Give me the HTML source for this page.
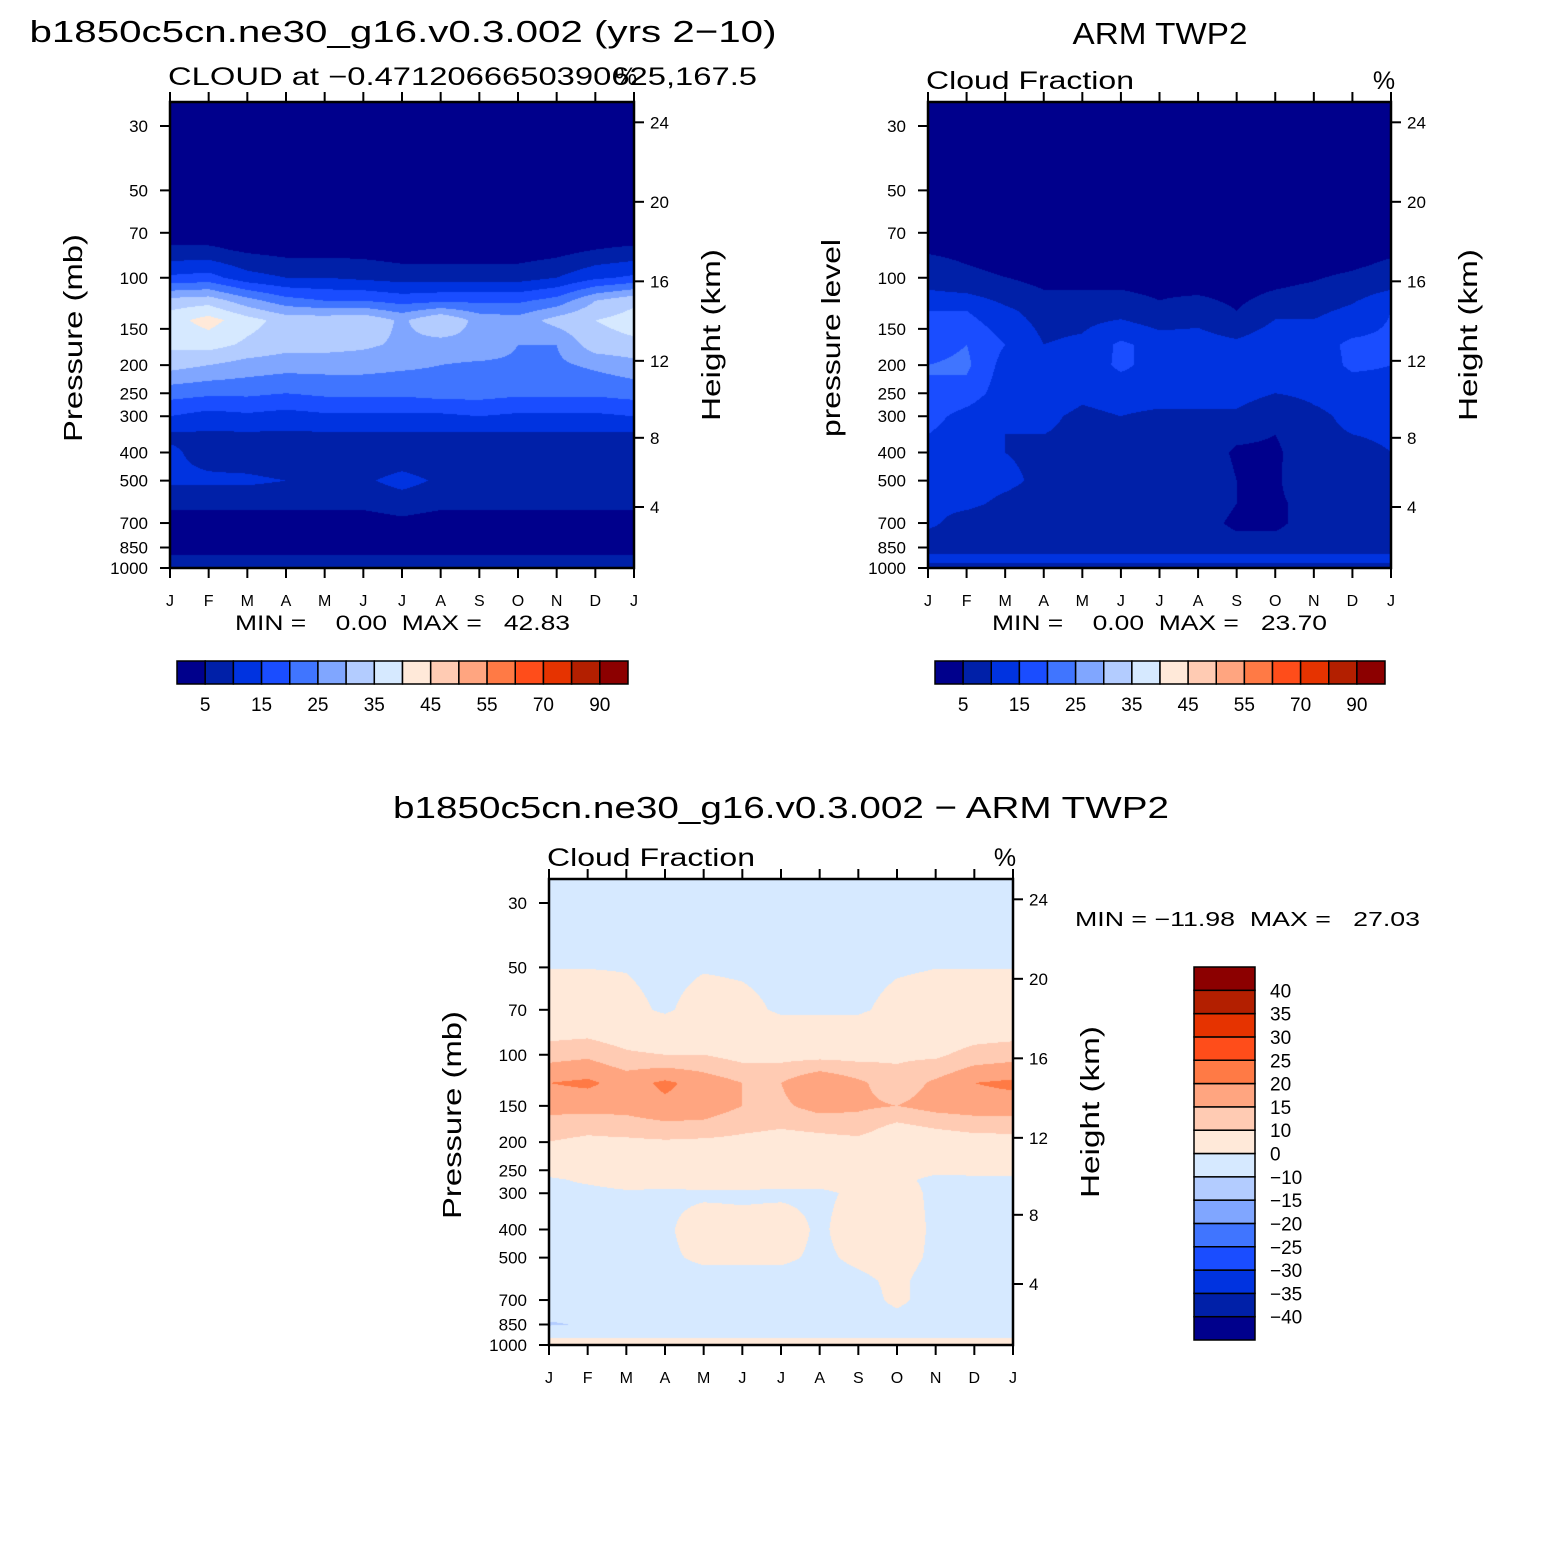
<!DOCTYPE html>
<html><head><meta charset="utf-8">
<style>
html,body{margin:0;padding:0;background:#fff;}
#wrap{position:relative;width:1563px;height:1563px;overflow:hidden;background:#fff;}
canvas{position:absolute;}
svg{position:absolute;left:0;top:0;}
text{font-family:"Liberation Sans",sans-serif;fill:#000;white-space:pre;}
</style></head>
<body>
<div id="wrap">
<canvas id="c1" style="left:170px;top:102px" width="464" height="466"></canvas>
<canvas id="c2" style="left:928px;top:102px" width="463" height="466"></canvas>
<canvas id="c3" style="left:549px;top:879px" width="464" height="466"></canvas>
<svg id="ov" width="1563" height="1563"></svg>
</div>
<script>
const months=["J","F","M","A","M","J","J","A","S","O","N","D","J"];
const pTicks=[30,50,70,100,150,200,250,300,400,500,700,850,1000];
const kmTicks=[4,8,12,16,20,24];
const colors=["#00008c","#0020a8","#0033e0","#1a4dff","#4075ff","#80a6ff","#b3ccff","#d6e9ff","#ffe9d9","#ffcbb3","#ffa580","#ff7a45","#ff4d1a","#e63300","#b31f00","#8c0000"];
const levelsAbs=[5,10,15,20,25,30,35,40,45,50,55,60,70,80,90];
const levelsDiff=[-40,-35,-30,-25,-20,-15,-10,0,10,15,20,25,30,35,40];
const absLabels=["5","15","25","35","45","55","70","90"];
const diffLabels=["40","35","30","25","20","15","10","0","−10","−15","−20","−25","−30","−35","−40"];

const p1Levels=[30,50,70,80,100,120,140,170,200,250,300,350,400,500,600,700,850,925,1000];
const model=[
[1,1,1,1,1,1,1,1,1,1,1,1,1],
[1,1,1,1,1,1,1,1,1,1,1,1,1],
[2,2,2,2,2,2,2,2,2,2,2,2,2],
[6,6,4,3,3,3,2,2,2,2,3,5,6],
[16,17,12,10,10,9,8,8,8,8,10,14,16],
[32,33,27,22,20,20,18,19,19,19,22,30,34],
[38,42,37,33,33,34,29,35,28,27,32,35,37],
[36,37,34,32,32,31,29,28,29,25,25,33,34],
[32,30,28,27,27,27,26,25,24,24,24,26,28],
[22,21,21,20,21,21,21,22,22,21,21,21,22],
[15,13,14,13,14,14,14,14,15,14,14,14,15],
[9,9,9,9,9,9,9,9,9,9,9,9,9],
[11,8,7,6,6,6,6,6,6,6,6,6,8],
[11,11,11,10,8,9,12,9,9,10,9,9,10],
[6,6,6,6,6,6,7,6,6,6,6,6,6],
[3,3,3,3,3,3,4,3,3,3,3,3,3],
[3,3,3,3,3,3,3,3,3,3,3,3,3],
[6,6,6,6,6,6,6,6,6,6,6,6,6],
[9,9,9,9,9,9,9,9,9,9,9,9,9]];

const p2Levels=[30,70,90,110,130,170,200,250,300,400,500,600,700,850,925,1000];
const obs=[
[1,1,1,1,1,1,1,1,1,1,1,1,1],
[1,1,1,1,1,1,1,1,1,1,1,1,1],
[7,5,3,2,2,2,2,2,2,2,3,4,6],
[10,9,7,5,5,5,4,4,3,5,6,8,10],
[15,15,11,8,8,8,6,8,5,9,9,11,15],
[18,20,15,10,11,16,13,12,11,13,13,16,16],
[20,21,13,12,12,16,13,14,11,13,12,16,15],
[20,18,12,13,11,12,12,12,12,10,11,12,13],
[17,13,10,11,9,10,9,9,9,6,9,11,11],
[13,11,10,9,9,9,9,9,4,4,9,9,10],
[12,12,11,9,9,9,9,10,5,4,10,10,10],
[11,11,9,8,8,8,8,8,5,4,7,8,9],
[11,8,7,7,5,7,5,7,4,4,7,7,9],
[7,7,7,7,7,7,7,7,7,7,7,7,7],
[12,12,12,12,12,12,12,12,12,12,12,12,12],
[8,8,8,8,8,8,8,8,8,8,8,8,8]];

const p3Levels=[30,50,70,100,125,150,180,220,270,300,400,500,600,700,850,925,1000];
const diff=[
[-2,-2,-2,-2,-2,-2,-2,-2,-2,-2,-2,-2,-2],
[-0.1,-0.1,-0.3,-2,-0.5,-1,-2,-2,-2,-0.7,-0.1,-0.1,-0.1],
[3,3,2,-1,3,2,-1,-1,-1,2,3,3,3],
[13,14,11,10,10,8,8,8,8,9,9,12,13],
[20,21,18,21,18,15,15,20,16,12,16,20,21],
[17,17,17,19,18,15,14,17,16,15,17,18,18],
[12,11,12,13,13,11,10,11,12,8,10,11,11],
[8,7,6,6,5,6,5,5,5,4,4,5,6],
[-1,1,3,2,3,3,2,2,2,1,-1,-1,-1],
[-2,-2,-1,-1,-1,-1,-1,-1,1,2,-1,-2,-2],
[-2,-2,-2,-1,3,2,3,-1,3,3,-1,-2,-2],
[-2,-2,-2,-1,1,1,1,-1,1,2,-1,-2,-2],
[-2,-2,-2,-2,-2,-2,-2,-2,-1,1,-2,-2,-2],
[-3,-6,-2,-2,-2,-2,-2,-2,-2,1,-2,-2,-2],
[-11,-9,-3,-2,-2,-2,-2,-2,-2,-2,-2,-2,-2],
[-1,-1,-1,-1,-1,-1,-1,-1,-1,-1,-1,-1,-1],
[2,2,2,2,2,2,2,2,2,2,2,2,2]];

const PTOP=24.8, PBOT=1000;
function yFrac(p){return (Math.log(p)-Math.log(PTOP))/(Math.log(PBOT)-Math.log(PTOP));}
function kmToP(z){z*=1000;return z<11000?1013.25*Math.pow(1-2.25577e-5*z,5.2559):226.32*Math.exp(-(z-11000)/6341.6);}
function colorIdx(v,lv){let i=0;while(i<lv.length&&v>=lv[i])i++;return i;}
function hex(c){return [parseInt(c.slice(1,3),16),parseInt(c.slice(3,5),16),parseInt(c.slice(5,7),16)];}
const rgb=colors.map(hex);

function drawField(id,levels,grid,lv){
  const cv=document.getElementById(id),ctx=cv.getContext('2d');
  const W=cv.width,H=cv.height,img=ctx.createImageData(W,H);
  const lp=levels.map(p=>Math.log(p)),lt=Math.log(PTOP),lb=Math.log(PBOT);
  for(let y=0;y<H;y++){
    const L=lt+(y+0.5)/H*(lb-lt);
    let r=0;while(r<lp.length-2&&L>lp[r+1])r++;
    let ty=(L-lp[r])/(lp[r+1]-lp[r]);ty=Math.max(0,Math.min(1,ty));
    for(let x=0;x<W;x++){
      const fx=(x+0.5)/W*12;let c=Math.min(11,Math.floor(fx));const tx=fx-c;
      const v=(grid[r][c]*(1-tx)+grid[r][c+1]*tx)*(1-ty)+(grid[r+1][c]*(1-tx)+grid[r+1][c+1]*tx)*ty;
      const k=rgb[colorIdx(v,lv)],o=(y*W+x)*4;
      img.data[o]=k[0];img.data[o+1]=k[1];img.data[o+2]=k[2];img.data[o+3]=255;
    }
  }
  ctx.putImageData(img,0,0);
}
drawField('c1',p1Levels,model,levelsAbs);
drawField('c2',p2Levels,obs,levelsAbs);
drawField('c3',p3Levels,diff,levelsDiff);

const svg=document.getElementById('ov');const NS="http://www.w3.org/2000/svg";
function el(tag,attrs,parent){const e=document.createElementNS(NS,tag);for(const k in attrs)e.setAttribute(k,attrs[k]);(parent||svg).appendChild(e);return e;}
function txt(s,x,y,size,anchor,name,rot,len){const t=el('text',{x:x,y:y,'font-size':size,'text-anchor':anchor||'start'});t.textContent=s;


if(len){t.setAttribute('textLength',len);t.setAttribute('lengthAdjust','spacingAndGlyphs');}
if(rot)t.setAttribute('transform','rotate(-90 '+x+' '+y+')');return t;}

function axes(x0,y0,w,h,leftTitle,pfx,leftLen){
  const g=el('g',{});
  
  
  el('rect',{x:x0,y:y0,width:w,height:h,fill:'none',stroke:'#000','stroke-width':2.5},g);
  months.forEach((m,i)=>{const x=x0+w*i/12;
    el('line',{x1:x,y1:y0+h,x2:x,y2:y0+h+10,stroke:'#000','stroke-width':2},g);
    el('line',{x1:x,y1:y0,x2:x,y2:y0-10,stroke:'#000','stroke-width':2},g);
    txt(m,x,y0+h+38,16,'middle',pfx+'-month-label');});
  pTicks.forEach(p=>{const y=y0+h*yFrac(p);
    el('line',{x1:x0,y1:y,x2:x0-10,y2:y,stroke:'#000','stroke-width':2},g);
    txt(String(p),x0-22,y+6,17,'end',pfx+'-pressure-label');});
  kmTicks.forEach(k=>{const y=y0+h*yFrac(kmToP(k));
    el('line',{x1:x0+w,y1:y,x2:x0+w+10,y2:y,stroke:'#000','stroke-width':2},g);
    txt(String(k),x0+w+16,y+6,17,'start',pfx+'-height-label');});
  txt(leftTitle,x0-88,y0+h/2+3,26,'middle',pfx+'-y-axis-title',true,leftLen);
  txt('Height (km)',x0+w+86,y0+h/2,26,'middle',pfx+'-right-axis-title',true,172);
}
axes(170,102,464,466,'Pressure (mb)','model',208);
axes(928,102,463,466,'pressure level','obs',198);
axes(549,879,464,466,'Pressure (mb)','diff',208);

txt('b1850c5cn.ne30_g16.v0.3.002 (yrs 2−10)',403,42,31,'middle','model-title',false,747);
txt('CLOUD at −0.4712066650390625,167.5',168,85,25,'start','model-subtitle',false,589);
txt('%',626,85,25,'middle','model-units');
txt('MIN =    0.00  MAX =   42.83',235,630,21,'start','model-min-max',false,335);
txt('ARM TWP2',1160,44,31,'middle','obs-title',false,175);
txt('Cloud Fraction',926,89,25,'start','obs-subtitle',false,208);
txt('%',1384,89,25,'middle','obs-units');
txt('MIN =    0.00  MAX =   23.70',992,630,21,'start','obs-min-max',false,335);
txt('b1850c5cn.ne30_g16.v0.3.002 − ARM TWP2',781,818,31,'middle','diff-title',false,776);
txt('Cloud Fraction',547,866,25,'start','diff-subtitle',false,208);
txt('%',1005,866,25,'middle','diff-units');
txt('MIN = −11.98  MAX =   27.03',1075,926,20,'start','diff-min-max',false,345);

function hbar(x0,y0,w,h,name){
  const bw=w/16;
  colors.forEach((c,i)=>{const r=el('rect',{x:x0+i*bw,y:y0,width:bw,height:h,fill:c,stroke:'#000','stroke-width':1.5});
    
    });
  absLabels.forEach((s,i)=>txt(s,x0+bw*(1+2*i),y0+h+27,19,'middle',name+'-label'));
}
hbar(177,661,451,23,'model-colorbar');
hbar(935,661,450,23,'obs-colorbar');
(function(){const x0=1194,y0=967,w=61,h=373,bh=h/16;
  colors.forEach((c,i)=>{const r=el('rect',{x:x0,y:y0+(15-i)*bh,width:w,height:bh,fill:c,stroke:'#000','stroke-width':1.5});
    
    });
  diffLabels.forEach((s,i)=>txt(s,x0+w+15,y0+bh*(i+1)+7,19,'start','diff-colorbar-label'));
})();
</script>
</body></html>
